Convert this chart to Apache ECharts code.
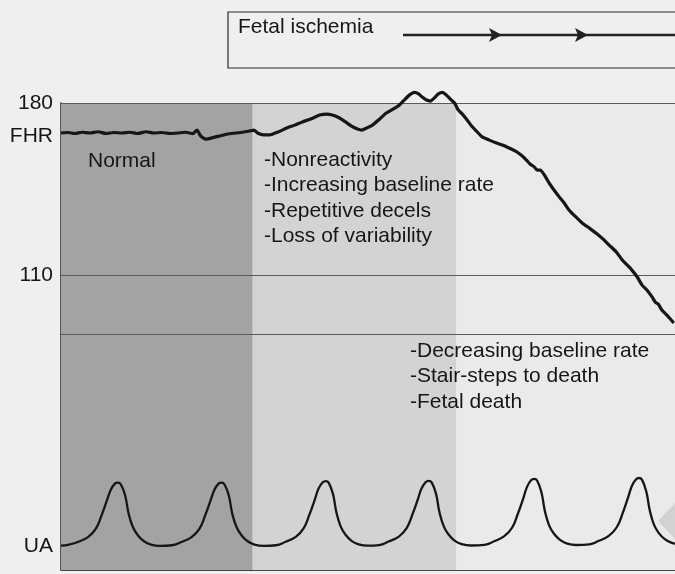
<!DOCTYPE html>
<html>
<head>
<meta charset="utf-8">
<title>Fetal heart rate progression with ischemia</title>
<script src="https://cdn.jsdelivr.net/npm/echarts@6/dist/echarts.min.js"></script>
<style>
  html, body { margin: 0; padding: 0; background: #efefef; }
  #chart { width: 675px; height: 574px; }
</style>
</head>
<body>
<div id="chart"></div>
<script>
// Fetal heart rate trace: time (arbitrary units) and rate (bpm)
const fhrTime = [
  0, 1.2, 2.3, 3.5, 4.8, 6.2, 7.5, 8.8, 10.2, 11.5,
  12.8, 14.2, 15.5, 16.8, 18.2, 19.5, 20.8, 22, 22.7, 23.3,
  24.2, 25.2, 26.5, 27.8, 29.2, 30.5, 31.5, 32.2, 32.8, 33.8,
  34.8, 36.2, 37.7, 39, 40.3, 41.7, 43.2, 44.3, 45.3, 46.5,
  47.5, 48.5, 49.5, 50.2, 51, 52, 53.2, 54.3, 55.5, 56.5,
  57.3, 58.2, 59, 59.7, 60.3, 61, 61.7, 62.3, 63, 63.7,
  64.3, 65, 65.7, 66.3, 67, 67.8, 68.7, 69.5, 70.3, 71.5,
  72.7, 73.7, 74.8, 75.8, 76.8, 77.7, 78.3, 79, 79.5, 80,
  80.7, 81.5, 82.3, 83.2, 84, 84.8, 85.8, 87, 88.2, 89.3,
  90.5, 91.5, 92.7, 93.7, 94.5, 95.3, 96.2, 97, 97.8, 98.7,
  99.2, 99.7, 100.3, 101.3, 102.3
];
const fhrRate = [
  167.8, 168.0, 167.6, 168.1, 167.8, 168.3, 167.6, 168.0, 167.8, 168.1,
  167.6, 168.3, 167.8, 168.0, 167.6, 167.8, 168.1, 167.5, 169.0, 166.6,
  165.3, 165.8, 166.6, 167.4, 167.8, 168.2, 168.6, 169.0, 167.8, 167.0,
  167.0, 168.2, 169.8, 171.0, 172.3, 173.5, 175.1, 175.5, 175.1, 173.9,
  172.3, 170.6, 169.4, 169.0, 169.8, 171.0, 173.5, 175.9, 177.6, 179.2,
  181.2, 183.3, 184.3, 183.7, 182.4, 181.2, 180.8, 182.0, 183.7, 184.3,
  183.3, 181.6, 180.0, 177.2, 175.5, 173.1, 170.2, 168.2, 166.2, 164.9,
  163.7, 162.9, 161.7, 160.5, 158.8, 156.8, 155.2, 154.0, 152.7, 152.7,
  150.7, 147.4, 144.6, 141.7, 139.3, 136.5, 134.0, 131.2, 129.1, 127.1,
  124.6, 122.2, 119.4, 116.1, 114.1, 112.0, 109.2, 105.9, 103.9, 101.0,
  99.0, 98.2, 95.8, 93.3, 90.5
];

// Uterine activity: time (same units) and pressure (mmHg), six contractions
const uaTime = [
  0, 1.2, 2.8, 4.5, 5.8, 6.8, 7.7, 8.3, 9.0, 9.5, 10.0, 10.7, 11.3, 12.0, 12.8, 13.8, 15.0, 16.5,
  18.5, 20.1, 21.8, 23.1, 24.1, 25.0, 25.6, 26.3, 26.8, 27.3, 28.0, 28.6, 29.3, 30.1, 31.1, 32.3, 33.8,
  35.9, 37.5, 39.2, 40.5, 41.5, 42.4, 43.0, 43.7, 44.2, 44.7, 45.4, 46.0, 46.7, 47.5, 48.5, 49.7, 51.2,
  53.1, 54.7, 56.4, 57.7, 58.7, 59.6, 60.2, 60.9, 61.4, 61.9, 62.6, 63.2, 63.9, 64.7, 65.7, 66.9, 68.4,
  70.7, 72.3, 74.0, 75.3, 76.3, 77.2, 77.8, 78.5, 79.0, 79.5, 80.2, 80.8, 81.5, 82.3, 83.3, 84.5, 86.0,
  88.2, 89.8, 91.5, 92.8, 93.8, 94.7, 95.3, 96.0, 96.5, 97.0, 97.7, 98.3, 99.0, 99.8, 100.8, 102.0, 102.5
];
const uaPressure = [
  10.4, 10.8, 12.0, 14.1, 17.6, 23.6, 30.0, 34.3, 37.0, 37.4, 36.6, 32.0, 24.0, 18.4, 15.0, 12.4, 10.9, 10.3,
  10.6, 12.0, 14.1, 17.6, 23.6, 30.0, 34.3, 37.0, 37.4, 36.6, 32.0, 24.0, 18.4, 15.0, 12.4, 10.9, 10.3,
  10.6, 12.1, 14.2, 17.8, 23.9, 30.4, 34.9, 37.6, 38.1, 37.3, 32.6, 24.4, 18.6, 15.1, 12.5, 11.0, 10.4,
  10.7, 12.2, 14.3, 17.9, 24.0, 30.5, 35.0, 37.7, 38.2, 37.4, 32.7, 24.5, 18.7, 15.2, 12.6, 11.1, 10.5,
  10.8, 12.3, 14.5, 18.1, 24.3, 30.9, 35.6, 38.5, 39.0, 38.2, 33.3, 25.0, 19.0, 15.5, 12.9, 11.3, 10.7,
  11.0, 12.5, 14.7, 18.4, 24.6, 31.3, 36.0, 38.9, 39.4, 38.6, 33.7, 25.4, 19.3, 15.8, 13.2, 11.6, 11.3
];

// Shaded phases along the time axis
const phaseStart = [0, 32, 66];
const phaseEnd = [32, 66, 102.5];
const phaseColors = ['#a3a3a3', '#d3d3d3', '#eaeaea'];

// Horizontal reference levels and labelled values on the FHR scale
const fhrRefLevels = [180, 110, 86];
const fhrTickValues = [180, 110];
const fhrLabelLevel = 166.5;
const uaLabelLevel = 10;

// Annotation text
const titleText = 'Fetal ischemia';
const normalNotes = ['Normal'];
const earlyNotes = ['-Nonreactivity', '-Increasing baseline rate', '-Repetitive decels', '-Loss of variability'];
const lateNotes = ['-Decreasing baseline rate', '-Stair-steps to death', '-Fetal death'];

const FONT = '"Liberation Sans", Arial, Helvetica, sans-serif';
const INK = '#161616';

const chart = echarts.init(document.getElementById('chart'), null, { renderer: 'canvas' });

function noteText(lines, x, yFirstCenter) {
  const lh = 25.5;
  return {
    type: 'text',
    x: x,
    y: yFirstCenter - lh / 2,
    z: 20,
    style: {
      text: lines.join('\n'),
      font: '21px ' + FONT,
      fill: INK,
      lineHeight: lh,
      verticalAlign: 'top',
      align: 'left'
    }
  };
}

function arrowHead(tipX, y) {
  return {
    type: 'polygon',
    z: 21,
    shape: { points: [[tipX - 13, y - 7], [tipX, y], [tipX - 13, y + 7], [tipX - 10, y]] },
    style: { fill: '#222' }
  };
}

const option = {
  backgroundColor: '#efefef',
  animation: false,
  grid: { left: 61, top: 103, width: 615, height: 467, containLabel: false },
  xAxis: {
    type: 'value',
    min: 0,
    max: 102.5,
    axisLine: { show: true, onZero: false, lineStyle: { color: '#444', width: 1 } },
    axisTick: { show: false },
    axisLabel: { show: false },
    splitLine: { show: false }
  },
  yAxis: [
    {
      type: 'value',
      min: -10,
      max: 180,
      axisLine: { show: true, onZero: false, lineStyle: { color: '#222', width: 1.5 } },
      axisTick: { show: false },
      splitLine: { show: false },
      axisLabel: {
        customValues: fhrTickValues.concat([fhrLabelLevel]),
        formatter: v => (v === fhrLabelLevel ? 'FHR' : String(v)),
        fontSize: 21,
        fontFamily: FONT,
        color: INK,
        margin: 8
      }
    },
    {
      type: 'value',
      min: 0,
      max: 200,
      position: 'left',
      axisLine: { show: false, onZero: false },
      axisTick: { show: false },
      splitLine: { show: false },
      axisLabel: {
        customValues: [uaLabelLevel],
        formatter: () => 'UA',
        fontSize: 21,
        fontFamily: FONT,
        color: INK,
        margin: 8
      }
    }
  ],
  series: [
    {
      name: 'Phases',
      type: 'line',
      yAxisIndex: 0,
      data: [],
      silent: true,
      z: 1,
      markArea: {
        silent: true,
        data: phaseStart.map((s, i) => [
          { xAxis: s, itemStyle: { color: phaseColors[i], opacity: 1 } },
          { xAxis: phaseEnd[i] }
        ])
      },
      markLine: {
        silent: true,
        symbol: ['none', 'none'],
        label: { show: false },
        lineStyle: { color: '#5a5a5a', width: 1, type: 'solid' },
        data: fhrRefLevels.map(v => ({ yAxis: v }))
      }
    },
    {
      name: 'UA',
      type: 'line',
      yAxisIndex: 1,
      data: uaTime.map((t, i) => [t, uaPressure[i]]),
      showSymbol: false,
      smooth: 0.45,
      z: 5,
      lineStyle: { color: INK, width: 2.3 }
    },
    {
      name: 'FHR',
      type: 'line',
      yAxisIndex: 0,
      data: fhrTime.map((t, i) => [t, fhrRate[i]]),
      showSymbol: false,
      smooth: 0.2,
      clip: false,
      z: 6,
      lineStyle: { color: INK, width: 3.2, join: 'round' }
    }
  ],
  graphic: [
    {
      type: 'rect',
      z: 20,
      shape: { x: 228, y: 12, width: 470, height: 56 },
      style: { fill: 'none', stroke: '#2a2a2a', lineWidth: 1.2 }
    },
    {
      type: 'text',
      x: 238,
      y: 27,
      z: 21,
      style: { text: titleText, font: '21px ' + FONT, fill: INK, verticalAlign: 'middle', align: 'left' }
    },
    {
      type: 'line',
      z: 21,
      shape: { x1: 403, y1: 35, x2: 680, y2: 35 },
      style: { stroke: '#222', lineWidth: 2.5 }
    },
    arrowHead(502, 35),
    arrowHead(588, 35),
    noteText(normalNotes, 88, 161),
    noteText(earlyNotes, 264, 160),
    noteText(lateNotes, 410, 351),
    {
      type: 'polygon',
      z: 2,
      shape: { points: [[658, 521], [676, 502], [676, 540]] },
      style: { fill: '#d2d2d2' }
    }
  ]
};

chart.setOption(option);
</script>
</body>
</html>
